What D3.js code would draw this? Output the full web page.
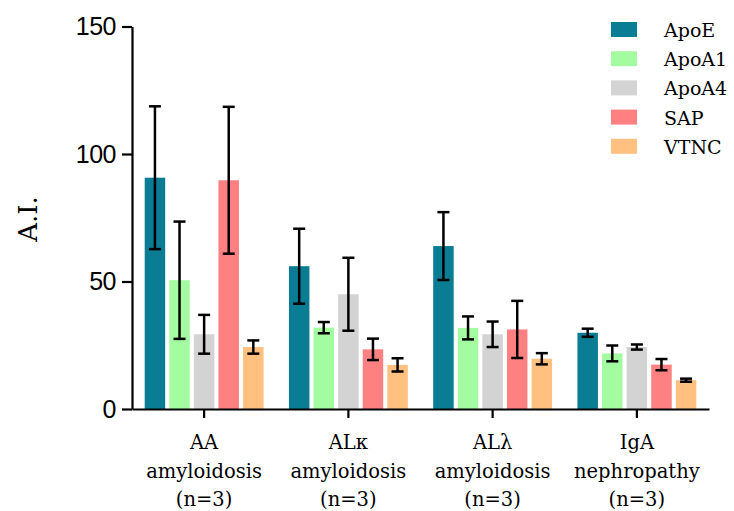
<!DOCTYPE html>
<html>
<head>
<meta charset="utf-8">
<script src="https://cdn.jsdelivr.net/npm/d3@7"></script>
<style>
  html, body { margin: 0; padding: 0; background: #fff; }
  svg { display: block; }
  .serif { font-family: "DejaVu Serif", serif; }
  .sans { font-family: "Liberation Sans", Arial, sans-serif; }
</style>
</head>
<body>
<svg id="chart" width="734" height="511"></svg>
<script>
// Disease groups (each label is drawn on three lines)
const groups = ["AA", "ALκ", "ALλ", "IgA"];
const groupLabels = [
  ["AA", "amyloidosis", "(n=3)"],
  ["ALκ", "amyloidosis", "(n=3)"],
  ["ALλ", "amyloidosis", "(n=3)"],
  ["IgA", "nephropathy", "(n=3)"]
];
const proteins = ["ApoE", "ApoA1", "ApoA4", "SAP", "VTNC"];
const colors = ["#0a7c94", "#a3fca0", "#d3d3d3", "#ff8080", "#ffc080"];

// Mean A.I. per protein, one value per group
const apoE  = [90.7, 56.0, 63.9, 29.9];
const apoA1 = [50.5, 31.9, 31.8, 21.8];
const apoA4 = [29.3, 45.0, 29.3, 24.3];
const sap   = [89.7, 23.4, 31.2, 17.4];
const vtnc  = [24.3, 17.3, 19.7, 11.3];

// Error (±) per protein, one value per group
const apoEErr  = [28.0, 14.7, 13.3, 1.6];
const apoA1Err = [23.0, 2.2, 4.5, 3.1];
const apoA4Err = [7.6, 14.3, 5.0, 1.0];
const sapErr   = [28.8, 4.2, 11.2, 2.2];
const vtncErr  = [2.6, 2.6, 2.2, 0.6];

const yTicks = [0, 50, 100, 150];

const means = [apoE, apoA1, apoA4, sap, vtnc];
const errs = [apoEErr, apoA1Err, apoA4Err, sapErr, vtncErr];

const rows = [];
groups.forEach((g, gi) => {
  proteins.forEach((p, pi) => {
    rows.push({ group: g, protein: p, value: means[pi][gi], err: errs[pi][gi], color: colors[pi] });
  });
});

const svg = d3.select("#chart");
const plotLeft = 132, plotRight = 709, plotBottom = 409, plotTop = 26.5;

const x0 = d3.scaleBand().domain(groups).range([plotLeft, plotRight])
  .paddingInner(0.176).paddingOuter(0.088);
const x1 = d3.scaleBand().domain(proteins).range([0, x0.bandwidth()]).paddingInner(0.167);
const y = d3.scaleLinear().domain([0, 150]).range([plotBottom, plotTop]);

// Bars
svg.append("g").selectAll("rect").data(rows).join("rect")
  .attr("x", d => x0(d.group) + x1(d.protein))
  .attr("y", d => y(d.value))
  .attr("width", x1.bandwidth())
  .attr("height", d => y(0) - y(d.value))
  .attr("fill", d => d.color);

// Error bars
const eb = svg.append("g").attr("stroke", "#000").attr("stroke-width", 2.5).attr("fill", "none");
const capW = 12;
rows.forEach(d => {
  const cx = x0(d.group) + x1(d.protein) + x1.bandwidth() / 2;
  const y1 = y(d.value + d.err), y2 = y(d.value - d.err);
  eb.append("line").attr("x1", cx).attr("x2", cx).attr("y1", y1).attr("y2", y2);
  eb.append("line").attr("x1", cx - capW / 2).attr("x2", cx + capW / 2).attr("y1", y1).attr("y2", y1);
  eb.append("line").attr("x1", cx - capW / 2).attr("x2", cx + capW / 2).attr("y1", y2).attr("y2", y2);
});

// Y axis
const yAxis = svg.append("g").attr("transform", `translate(${plotLeft},0)`)
  .call(d3.axisLeft(y).tickValues(yTicks).tickSize(10).tickSizeOuter(0).tickPadding(6));
yAxis.attr("font-family", null).attr("font-size", null);
yAxis.select(".domain").attr("stroke-width", 2.2);
yAxis.selectAll(".tick line").attr("stroke-width", 2.2);
yAxis.selectAll(".tick text")
  .attr("class", "sans")
  .style("font-size", "25px").attr("fill", "#000").style("letter-spacing", "-0.5px");

// X axis
const xAxis = svg.append("g").attr("transform", `translate(0,${plotBottom})`)
  .call(d3.axisBottom(x0).tickSize(9).tickSizeOuter(0).tickFormat(""));
xAxis.select(".domain").attr("stroke-width", 2.2);
xAxis.selectAll(".tick line").attr("stroke-width", 2.2);

// Multi-line group labels
const lab = svg.append("g").attr("class", "serif")
  .style("font-size", "19.5px").attr("fill", "#000").attr("text-anchor", "middle");
groups.forEach((g, gi) => {
  const cx = x0(g) + x0.bandwidth() / 2;
  groupLabels[gi].forEach((t, li) => {
    lab.append("text").attr("x", cx).attr("y", 449 + li * 28.5).text(t);
  });
});

// Y axis title
svg.append("text").attr("class", "serif")
  .attr("transform", "translate(37,219) rotate(-90)")
  .attr("text-anchor", "middle")
  .style("font-size", "26px").attr("fill", "#000")
  .text("A.I.");

// Legend
const leg = svg.append("g").attr("class", "serif");
proteins.forEach((p, i) => {
  const ty = 22 + i * 29.2;
  leg.append("rect").attr("x", 611).attr("y", ty).attr("width", 26).attr("height", 15).attr("fill", colors[i]);
  leg.append("text").attr("x", 664).attr("y", ty + 15)
    .style("font-size", "19px").attr("fill", "#000")
    .text(p);
});
</script>
</body>
</html>
